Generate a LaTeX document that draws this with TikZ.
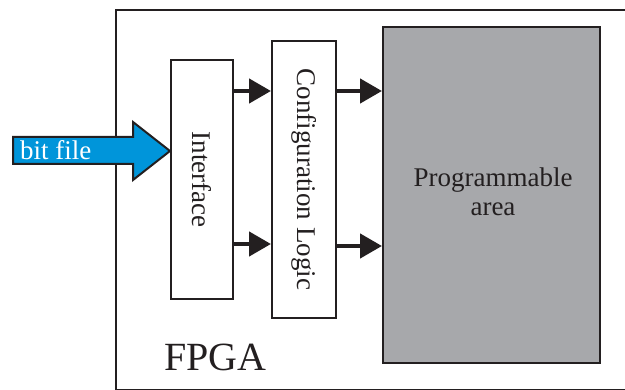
\documentclass[tikz,border=0pt]{standalone}
\usepackage{fontspec}
\setmainfont{Liberation Serif}
\usetikzlibrary{arrows.meta}
\definecolor{ink}{HTML}{231F20}
\definecolor{areagray}{HTML}{A7A8AB}
\definecolor{bitblue}{HTML}{0095DA}
\tikzset{
  block/.style={draw=ink, line width=2pt, fill=white, inner sep=0pt,
    text=ink, font=\fontsize{27}{29}\selectfont},
  flow/.style={draw=ink, line width=4.5pt,
    -{Triangle[length=22pt,width=24pt]}, ink},
  chip/.style={draw=ink, line width=2pt},
}
\begin{document}
\begin{tikzpicture}[x=1pt,y=-1pt]
\useasboundingbox (0,0) rectangle (625,390);
\clip (0,0) rectangle (625,390);

% FPGA package outline (runs off the right side)
\draw[chip] (116,10) rectangle (660,390);
\node[anchor=base west, text=ink, font=\fontsize{40}{40}\selectfont, inner sep=0pt]
  (fpga) at (164,371) {FPGA};

% internal blocks (rotated text; local north faces right)
\node[block, rotate=-90, minimum width=239pt, minimum height=62pt]
  (iface) at (202,179.5) {Interface};
\node[block, rotate=-90, minimum width=277pt, minimum height=64pt]
  (cfg) at (304,179.5) {Configuration Logic};
\node[block, fill=areagray, minimum width=217pt, minimum height=336pt]
  (area) at (491.5,195) {};
\node[text=ink, font=\fontsize{27}{29}\selectfont, align=center, inner sep=0pt]
  (arealabel) at (493,192) {Programmable\\area};

% data paths
\draw[flow] (iface.north |- 0,91) -- (cfg.south |- 0,91);
\draw[flow] (iface.north |- 0,244) -- (cfg.south |- 0,244);
\draw[flow] (cfg.north |- 0,91) -- (area.west |- 0,91);
\draw[flow] (cfg.north |- 0,246) -- (area.west |- 0,246);

% incoming bitstream
\coordinate (tip) at (iface.south |- 0,151);
\draw[draw=ink, line width=2pt, fill=bitblue]
  (13,137) -- (133,137) -- (133,122) -- (tip) -- (133,180)
  -- (133,164) -- (13,164) -- cycle;
\node[anchor=base west, text=white, font=\fontsize{27}{27}\selectfont, inner sep=0pt]
  (bitfile) at (20,160) {bit file};
\end{tikzpicture}
\end{document}
